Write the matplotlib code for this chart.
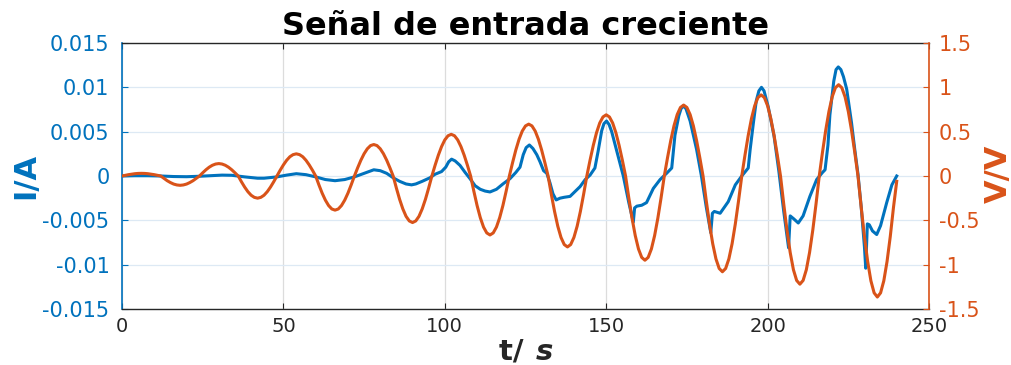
import numpy as np
import matplotlib
matplotlib.use("Agg")
import matplotlib.pyplot as plt

# ---------------- data ----------------
title_text = "Señal de entrada creciente"
x_ticks = [0, 50, 100, 150, 200, 250]
left_ticks = [-0.015, -0.01, -0.005, 0, 0.005, 0.01, 0.015]
left_labels = ["-0.015", "-0.01", "-0.005", "0", "0.005", "0.01", "0.015"]
right_ticks = [-1.5, -1, -0.5, 0, 0.5, 1, 1.5]
right_labels = ["-1.5", "-1", "-0.5", "0", "0.5", "1", "1.5"]

# voltage, sampled each second from t=0 to t=240
t_volt = np.arange(0, 241, 1)
v_volt = [
    0.0,
    0.008, 0.015, 0.021, 0.026, 0.029, 0.030, 0.029, 0.026, 0.021, 0.015, 0.008, 0.0,
    -0.027, -0.053, -0.074, -0.091, -0.101, -0.105, -0.101, -0.091, -0.074, -0.053, -0.027, 0.0,
    0.036, 0.070, 0.099, 0.121, 0.135, 0.140, 0.135, 0.121, 0.099, 0.070, 0.036, 0.0,
    -0.065, -0.125, -0.177, -0.217, -0.241, -0.250, -0.241, -0.217, -0.177, -0.125, -0.065, 0.0,
    0.065, 0.125, 0.177, 0.217, 0.241, 0.250, 0.241, 0.217, 0.177, 0.125, 0.065, 0.0,
    -0.100, -0.193, -0.272, -0.333, -0.372, -0.385, -0.372, -0.333, -0.272, -0.193, -0.100, 0.0,
    0.092, 0.178, 0.251, 0.307, 0.343, 0.355, 0.343, 0.307, 0.251, 0.178, 0.092, 0.0,
    -0.136, -0.263, -0.371, -0.455, -0.507, -0.525, -0.507, -0.455, -0.371, -0.263, -0.136, 0.0,
    0.122, 0.235, 0.332, 0.407, 0.454, 0.470, 0.454, 0.407, 0.332, 0.235, 0.122, 0.0,
    -0.172, -0.333, -0.470, -0.576, -0.642, -0.665, -0.642, -0.576, -0.470, -0.333, -0.172, 0.0,
    0.151, 0.293, 0.414, 0.507, 0.565, 0.585, 0.565, 0.507, 0.414, 0.293, 0.151, 0.0,
    -0.207, -0.400, -0.566, -0.693, -0.773, -0.800, -0.773, -0.693, -0.566, -0.400, -0.207, 0.0,
    0.179, 0.345, 0.488, 0.598, 0.666, 0.690, 0.666, 0.598, 0.488, 0.345, 0.179, 0.0,
    -0.246, -0.475, -0.672, -0.823, -0.918, -0.950, -0.918, -0.823, -0.672, -0.475, -0.246, 0.0,
    0.207, 0.400, 0.566, 0.693, 0.773, 0.800, 0.773, 0.693, 0.566, 0.400, 0.207, 0.0,
    -0.280, -0.540, -0.764, -0.935, -1.043, -1.080, -1.043, -0.935, -0.764, -0.540, -0.280, 0.0,
    0.237, 0.458, 0.647, 0.792, 0.884, 0.915, 0.884, 0.792, 0.647, 0.458, 0.237, 0.0,
    -0.316, -0.610, -0.863, -1.057, -1.178, -1.220, -1.178, -1.057, -0.863, -0.610, -0.316, 0.0,
    0.267, 0.515, 0.728, 0.892, 0.995, 1.030, 0.995, 0.892, 0.728, 0.515, 0.267, 0.0,
    -0.353, -0.683, -0.965, -1.182, -1.318, -1.365, -1.318, -1.182, -0.965, -0.683, -0.353, -0.06,
]

# current (irregular sample times)
t_curr = [
    0, 4, 8, 12, 16, 20, 24, 28, 31, 34, 38, 42, 44, 48, 51, 54, 57, 60, 63, 66,
    69, 72, 75, 78, 80, 82, 84, 86, 88, 89.7, 91, 93, 95.4, 97, 99, 100.3, 101.2,
    102.1, 103.2, 104.7, 106.3, 107.8, 109.4, 111, 112.5, 114, 116, 118, 120.2,
    122, 123.3, 124.3, 125.2, 126.2, 127.3, 128.5, 129.5, 130.6, 131.6, 132.6,
    133.5, 134.5, 135.7, 137, 138.8, 140.5, 141.9, 143.5, 145, 146.5, 147.5,
    148.6, 149.3, 150.1, 150.9, 151.7, 153.5, 155.3, 157, 158.4, 158.8, 159.5,
    161, 162.5, 164.6, 166.7, 168.7, 170.3, 171.3, 172.5, 173.2, 173.9, 174.7,
    176, 178, 179.5, 181, 182.4, 182.9, 183.5, 185.3, 187.8, 190, 192, 194,
    194.6, 195.6, 196.5, 197.3, 198.1, 198.9, 200.2, 202, 203.5, 205, 206.5,
    207.0, 208, 209.5, 211, 213.1, 215.2, 217, 217.8, 218.7, 219.3, 220.5,
    221.2, 221.9, 222.7, 223.5, 224.5, 226, 227, 228, 229, 230, 230.4, 230.9,
    231.5, 232.5, 233.8, 235, 236.9, 238.5, 240,
]
i_curr = [
    0.0, 0.00003, 0.00003, 0.0, -0.00006, -0.00008, -0.00003, 0.00005, 0.0001,
    0.00008, -0.0001, -0.00025, -0.00025, -0.0001, 0.0001, 0.00026, 0.00015,
    -0.0001, -0.0004, -0.00053, -0.0004, -0.0001, 0.0003, 0.0007, 0.0006,
    0.0003, -0.0002, -0.0006, -0.0009, -0.001, -0.0009, -0.0006, -0.0002,
    0.0002, 0.0005, 0.001, 0.0016, 0.0019, 0.0017, 0.0012, 0.0004, -0.0003,
    -0.0011, -0.0015, -0.0017, -0.0018, -0.0015, -0.0009, -0.0003,
    0.0004, 0.001, 0.0024, 0.0032, 0.0035, 0.0031, 0.0024, 0.0016, 0.0006,
    0.0003, -0.0008, -0.002, -0.0027, -0.0025, -0.0024, -0.0023, -0.0017,
    -0.0012, -0.0004, 0.0001, 0.0009, 0.0028, 0.0051, 0.0059, 0.0062, 0.0058,
    0.005, 0.0025, 0.0, -0.003, -0.0052, -0.0036, -0.0034, -0.0033, -0.003,
    -0.0014, -0.0004, 0.0003, 0.0009, 0.0046, 0.0068, 0.0076, 0.0079, 0.0076,
    0.0062, 0.003, 0.0, -0.0035, -0.0064, -0.0042, -0.004, -0.0042, -0.0029,
    -0.001, 0.0, 0.0009, 0.003, 0.006, 0.0085, 0.0096, 0.01, 0.0096, 0.0078,
    0.0045, 0.0005, -0.004, -0.0081, -0.0045, -0.0048, -0.0053, -0.0045,
    -0.0023, -0.0004, 0.0004, 0.0007, 0.0035, 0.0069, 0.0107, 0.012, 0.0123,
    0.012, 0.0112, 0.0098, 0.006, 0.003, 0.0002, -0.0035, -0.008, -0.0104,
    -0.0054, -0.0055, -0.0062, -0.0066, -0.0056, -0.003, -0.001, 0.0,
]

# ---------------- styling ----------------
BLUE = "#0072BD"
ORANGE = "#D95319"
DARK = "#262626"

plt.rcParams["font.family"] = ["DejaVu Sans"]
plt.rcParams["axes.unicode_minus"] = False

fig = plt.figure(figsize=(10.12, 3.65), dpi=100)
ax = fig.add_axes([122 / 1012, 1 - 309 / 365, (929 - 122) / 1012, (309 - 43) / 365])
ax2 = ax.twinx()

ax.plot(t_curr, i_curr, color=BLUE, lw=2.2, solid_joinstyle="round")
ax2.plot(t_volt, v_volt, color=ORANGE, lw=2.2, solid_joinstyle="round")

ax.set_xlim(0, 250)
ax.set_ylim(-0.015, 0.015)
ax2.set_ylim(-1.5, 1.5)

ax.set_xticks(x_ticks)
ax.set_xticklabels([str(v) for v in x_ticks], fontsize=14, color=DARK)
ax.set_yticks(left_ticks)
ax.set_yticklabels(left_labels, fontsize=15, color=BLUE)
ax2.set_yticks(right_ticks)
ax2.set_yticklabels(right_labels, fontsize=15, color=ORANGE)

ax.tick_params(axis="x", direction="in", top=True, length=4, width=0.8,
               color=DARK, pad=6)
ax.tick_params(axis="y", direction="in", length=4, width=0.8, color=BLUE, pad=9)
ax2.tick_params(axis="y", direction="in", length=4, width=0.8, color=ORANGE, pad=7)

# grid
ax.grid(True, axis="x", color="#dcdcdc", lw=0.9)
ax.grid(True, axis="y", color="#dde9f4", lw=0.9)
ax.set_axisbelow(True)

for sp in ("top", "bottom"):
    ax.spines[sp].set_color(DARK)
    ax.spines[sp].set_linewidth(1.0)
    ax2.spines[sp].set_visible(False)
ax.spines["left"].set_color(BLUE)
ax.spines["left"].set_linewidth(1.2)
ax.spines["right"].set_visible(False)
ax2.spines["left"].set_visible(False)
ax2.spines["right"].set_color(ORANGE)
ax2.spines["right"].set_linewidth(1.2)

ax.set_title(title_text, fontsize=23, fontweight="bold", color="black", pad=6)

fig.text(26 / 1012, 1 - 176 / 365, "I/A", rotation=90, ha="center", va="center",
         fontsize=22, fontweight="bold", color=BLUE)
fig.text(998 / 1012, 1 - 174 / 365, "V/V", rotation=90, ha="center", va="center",
         fontsize=22, fontweight="bold", color=ORANGE)
fig.text(534 / 1012, 1 - 352 / 365, "t/ ", ha="right", va="center",
         fontsize=21, fontweight="bold", color=DARK)
fig.text(536 / 1012, 1 - 352 / 365, "s", ha="left", va="center",
         fontsize=21, fontweight="bold", style="italic", color=DARK)

fig.savefig("out.png", dpi=100)
